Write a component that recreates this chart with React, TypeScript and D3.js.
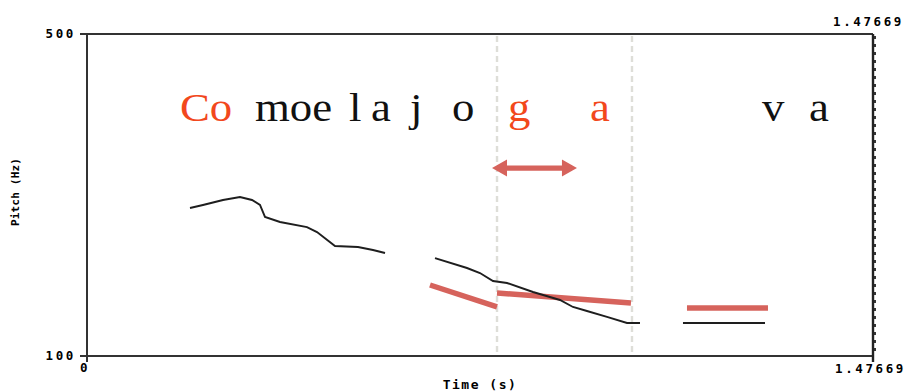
import React from "react";
import * as d3 from "d3";

const W = 912;
const H = 392;
const T_MAX = 1.47669;
const Y_MIN = 100;
const Y_MAX = 500;

// Black pitch contour segments: [time (s), pitch (Hz)]
const pitchSeg1: [number, number][] = [
  [0.1935, 283.9], [0.2179, 287.6], [0.2555, 293.8], [0.2874, 297.5],
  [0.31, 293.8], [0.325, 287.6], [0.3344, 272.7], [0.3626, 266.5],
  [0.4133, 260.2], [0.4321, 254.0], [0.4659, 236.6], [0.5091, 235.4],
  [0.5373, 231.7], [0.5599, 227.9],
];
const pitchSeg2: [number, number][] = [
  [0.6538, 221.7], [0.7139, 209.3], [0.7383, 203.1], [0.7628, 193.2],
  [0.7891, 190.7], [0.8379, 179.5], [0.8886, 169.6], [0.913, 160.9],
  [0.9393, 155.9], [0.9769, 148.5], [1.0145, 141.0], [1.0389, 141.0],
];
const pitchSeg3: [number, number][] = [
  [1.1197, 141.0], [1.2738, 141.0],
];
const pitchSegments = [pitchSeg1, pitchSeg2, pitchSeg3];

// Red stylised targets
const targetSegments: [number, number][][] = [
  [[0.6444, 188.2], [0.7703, 160.9]],
  [[0.7703, 178.3], [1.022, 165.8]],
  [[1.1272, 159.6], [1.2794, 159.6]],
];

// Dotted boundary times
const boundaries = [0.7703, 1.0239];

// Arrow annotation: [t1, t2, Hz]
const arrowSpan: [number, number, number] = [0.7609, 0.9205, 333.5];

// Syllable labels
const syllableTexts = ["Co", "moe", "l", "a", "j", "o", "g", "a", "v", "a"];
const syllableTimes = [0.1745, 0.3155, 0.4923, 0.5336, 0.6069, 0.6858, 0.7909, 0.9449, 1.2681, 1.3563];
const syllableRed = [true, false, false, false, false, false, true, true, false, false];

const yTickLabels = ["500", "100"];
const xTickLabels = ["0", "1.47669"];

export default function App() {
  const x = d3.scaleLinear().domain([0, T_MAX]).range([87, 873]);
  const y = d3.scaleLinear().domain([Y_MIN, Y_MAX]).range([356, 34]);
  const line = d3
    .line<[number, number]>()
    .x((d) => x(d[0]))
    .y((d) => y(d[1]));

  const red = "#d6635c";
  const textRed = "#f2481c";
  const tickFont = {
    fontFamily: "DejaVu Sans Mono",
    fontWeight: 700,
    fontSize: 12.5,
    letterSpacing: 2.6,
  } as const;

  const [a1, a2, aHz] = arrowSpan;
  const ax1 = x(a1);
  const ax2 = x(a2);
  const ay = y(aHz);
  const head = 15;
  const hh = 8.5;
  const sh = 2.6;
  const arrowPath = `M${ax1},${ay} L${ax1 + head},${ay - hh} L${ax1 + head},${ay - sh} L${ax2 - head},${ay - sh} L${ax2 - head},${ay - hh} L${ax2},${ay} L${ax2 - head},${ay + hh} L${ax2 - head},${ay + sh} L${ax1 + head},${ay + sh} L${ax1 + head},${ay + hh} Z`;

  return (
    <svg
      width={W}
      height={H}
      style={{ position: "absolute", left: 0, top: 0, background: "#fff" }}
    >
      {/* boundaries */}
      {boundaries.map((b, i) => (
        <line
          key={i}
          x1={x(b)}
          x2={x(b)}
          y1={y(Y_MAX) + 2}
          y2={y(Y_MIN)}
          stroke="#deded8"
          strokeWidth={2.4}
          strokeDasharray="6,4"
        />
      ))}

      {/* axes frame */}
      <line x1={80} x2={873} y1={34} y2={34} stroke="#333" strokeWidth={2} />
      <line x1={80} x2={873} y1={356} y2={356} stroke="#333" strokeWidth={2} />
      <line x1={87} x2={87} y1={34} y2={362} stroke="#333" strokeWidth={2} />
      <line x1={873} x2={873} y1={34} y2={362} stroke="#222" strokeWidth={2.4} />
      <line x1={875} x2={875} y1={36} y2={354} stroke="#222" strokeWidth={1.8} strokeDasharray="3,5" />

      {/* tick labels */}
      <text x={76} y={y(Y_MAX) + 4} textAnchor="end" style={tickFont}>{yTickLabels[0]}</text>
      <text x={76} y={y(Y_MIN) + 4} textAnchor="end" style={tickFont}>{yTickLabels[1]}</text>
      <text x={x(0) - 7} y={372} style={tickFont}>{xTickLabels[0]}</text>
      <text x={833} y={26} style={tickFont}>{xTickLabels[1]}</text>
      <text x={835} y={373} style={tickFont}>{xTickLabels[1]}</text>

      {/* axis titles */}
      <text
        x={480}
        y={389}
        textAnchor="middle"
        style={{ ...tickFont, fontSize: 13, letterSpacing: 1.5 }}
      >
        Time (s)
      </text>
      <text
        transform="translate(19,192) rotate(-90)"
        textAnchor="middle"
        style={{ ...tickFont, fontSize: 11, letterSpacing: 0.2 }}
      >
        Pitch (Hz)
      </text>

      {/* syllables */}
      {syllableTexts.map((s, i) => (
        <text
          key={i}
          transform={`translate(${x(syllableTimes[i])},121) scale(1.12,1)`}
          fill={syllableRed[i] ? textRed : "#111"}
          style={{ fontFamily: "Liberation Serif", fontSize: 40 }}
        >
          {s}
        </text>
      ))}

      {/* arrow */}
      <path d={arrowPath} fill={red} />

      {/* red targets */}
      {targetSegments.map((seg, i) => (
        <path key={i} d={line(seg) || ""} fill="none" stroke={red} strokeWidth={5.5} />
      ))}

      {/* pitch contour */}
      {pitchSegments.map((seg, i) => (
        <path key={i} d={line(seg) || ""} fill="none" stroke="#1e1e1e" strokeWidth={1.9} />
      ))}
    </svg>
  );
}
